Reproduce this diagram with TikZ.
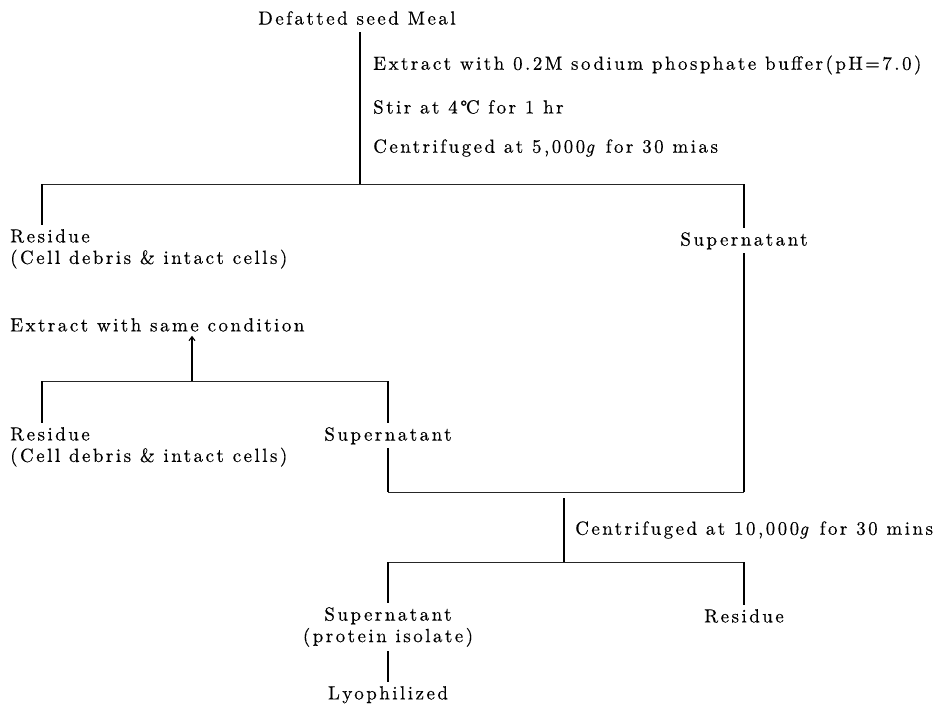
\documentclass[tikz,border=0pt]{standalone}
\usepackage{fontspec}
\setmainfont{lmroman10-regular}[Extension=.otf, ItalicFont=lmroman10-italic, LetterSpace=13, FakeBold=0.35]
\usetikzlibrary{arrows.meta}
\tikzset{
  txt/.style={inner xsep=0pt, inner ysep=4pt, font=\fontsize{19}{21.5}\selectfont},
  conn/.style={line width=1.1pt, black},
  barline/.style={line width=0.9pt, black!85},
}
\begin{document}
\begin{tikzpicture}[x=1pt,y=-1pt]
\useasboundingbox[fill=white] (0,0) rectangle (945,712);

% top
\node[txt] (meal) at (357,18) {Defatted seed Meal};
\node[txt,anchor=west] (e1) at (373,65) {Extract with 0.2M sodium phosphate buffer(pH=7.0)};
\node[txt,anchor=west] (e2) at (373,107) {Stir at 4°\kern-1.5pt C for 1 hr};
\node[txt,anchor=west] (e3) at (373,148) {Centrifuged at 5,000\textit{g} for 30 mias};
\coordinate (b1) at (360,184);
\coordinate (b1l) at (42,184);
\coordinate (b1r) at (744,184);
\draw[conn] (meal.south) ++(3,3) -- (b1);
\draw[barline] (b1l) -- (b1r);

% first split
\node[txt,anchor=north west,align=left] (r1) at (10,225) {Residue\\(Cell debris \& intact cells)};
\node[txt,anchor=north] (s1) at (744,228) {Supernatant};
\draw[conn] (b1l) -- (b1l |- r1.north);
\draw[conn] (b1r) -- (s1.north);

% re-extraction
\node[txt,anchor=north west] (ex) at (10,314) {Extract with same condition};
\coordinate (b2) at (192,381);
\coordinate (b2l) at (42,381);
\coordinate (b2r) at (388,381);
\draw[conn,-{Straight Barb[length=4pt,width=6pt]}] (b2) -- (b2 |- ex.south);
\draw[barline] (b2l) -- (b2r);
\node[txt,anchor=north west,align=left] (r2) at (10,423) {Residue\\(Cell debris \& intact cells)};
\node[txt,anchor=north] (s2) at (388,423) {Supernatant};
\draw[conn] (b2l) -- (b2l |- r2.north);
\draw[conn] (b2r) -- (s2.north);

% combine supernatants
\coordinate (c1r) at (744,492);
\coordinate (c1l) at (388,492);
\draw[conn] (s1.south) -- (c1r);
\draw[conn] (s2.south) -- (c1l);
\draw[barline] (c1l) -- (c1r);

% second centrifuge
\coordinate (cm1) at (564,498);
\coordinate (b3) at (564,562);
\coordinate (b3l) at (388,562);
\coordinate (b3r) at (744,562);
\draw[conn] (cm1) -- (b3);
\node[txt,anchor=west] (e4) at (575,530) {Centrifuged at 10,000\textit{g} for 30 mins};
\draw[barline] (b3l) -- (b3r);
\node[txt,anchor=north,align=center] (s3) at (388,603) {Supernatant\\(protein isolate)};
\node[txt,anchor=north] (r3) at (744,605) {Residue};
\draw[conn] (b3l) -- (s3.north);
\draw[conn] (b3r) -- (r3.north);

% lyophilized
\node[txt,anchor=north] (ly) at (388,682) {Lyophilized};
\draw[conn] (s3.south) -- (ly.north);
\end{tikzpicture}
\end{document}
